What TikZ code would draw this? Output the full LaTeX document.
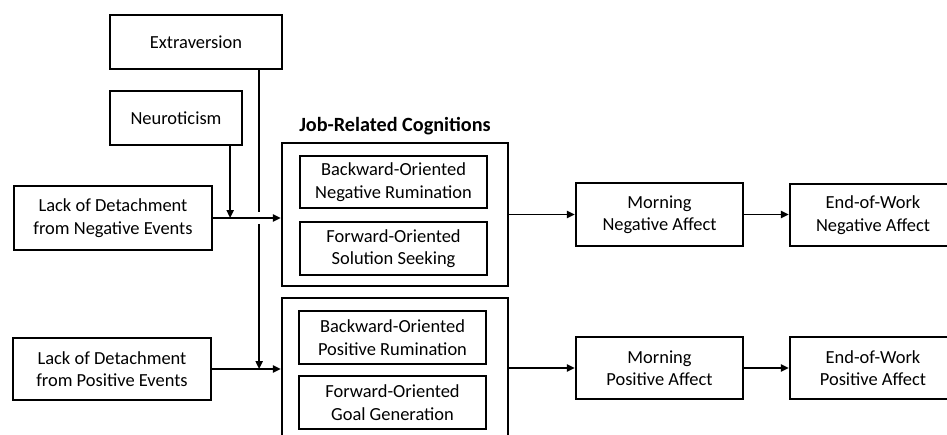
\documentclass[tikz,border=0pt]{standalone}
\usepackage{fontspec}
\setmainfont{Carlito}
\usetikzlibrary{arrows.meta, positioning, calc}

\begin{document}
\begin{tikzpicture}[x=0.02cm, y=-0.02cm, line width=1.3pt,
    box/.style={draw, align=center, inner sep=1pt, font=\fontsize{10.5}{12.8}\selectfont},
    frame/.style={draw, minimum width=4.52cm, minimum height=2.86cm},
    inbox/.style={box, minimum width=3.74cm, minimum height=1.05cm},
    arr/.style={-{Triangle[length=4.5pt,width=4pt]}, line width=1.1pt}]

  \path[use as bounding box, clip] (0,0) rectangle (947,435);

  % ---------- traits ----------
  \node[box, minimum width=3.44cm, minimum height=1.08cm] (extra) at (196,42) {Extraversion};
  \node[box, minimum width=2.64cm, minimum height=1.08cm] (neuro) at (176,118) {Neuroticism};

  % ---------- lack of detachment ----------
  \node[box, minimum width=3.96cm, minimum height=1.27cm] (lodneg) at (113,218) {Lack of Detachment\\from Negative Events};
  \node[box, minimum width=3.96cm, minimum height=1.25cm] (lodpos) at (112,369) {Lack of Detachment\\from Positive Events};

  % ---------- job-related cognitions ----------
  \node[frame] (jrcneg) at (395,214.5) {};
  \node[frame] (jrcpos) at (395,369.5) {};
  \node[above=0pt of jrcneg, font=\fontsize{11.5}{14}\selectfont\bfseries] (title) {Job-Related Cognitions};
  \node[inbox] (bnr) at (393.5,182) {Backward-Oriented\\Negative Rumination};
  \node[inbox] (fss) at (393.5,248.5) {Forward-Oriented\\Solution Seeking};
  \node[inbox] (bpr) at (392.5,337.5) {Backward-Oriented\\Positive Rumination};
  \node[inbox] (fgg) at (392.5,402.5) {Forward-Oriented\\Goal Generation};

  % ---------- affect ----------
  \node[box, minimum width=3.34cm, minimum height=1.26cm] (mna) at (659.5,214.5) {Morning\\Negative Affect};
  \node[box, minimum width=3.34cm, minimum height=1.24cm] (mpa) at (659.5,368) {Morning\\Positive Affect};
  \node[box, minimum width=3.32cm, minimum height=1.24cm] (ena) at (873,215) {End-of-Work\\Negative Affect};
  \node[box, minimum width=3.32cm, minimum height=1.24cm] (epa) at (873,368) {End-of-Work\\Positive Affect};

  % ---------- connectors ----------
  \coordinate (ex) at ($(extra.south east)+(-24,0)$);
  \coordinate (nx) at ($(neuro.south east)+(-13,0)$);
  \draw[arr] (lodneg.east) -- (lodneg.east -| jrcneg.west);
  \draw[arr] (lodpos.east) -- (lodpos.east -| jrcpos.west);
  \draw[arr] (nx) -- (nx |- lodneg.east);
  \draw[line width=1.1pt] (ex) -- ($(ex |- lodneg.east)+(0,-6)$);
  \draw[arr] ($(ex |- lodneg.east)+(0,6)$) -- (ex |- lodpos.east);
  \draw[arr] (jrcneg.east) -- (jrcneg.east -| mna.west);
  \draw[arr] (jrcpos.east |- mpa.west) -- (mpa.west);
  \draw[arr] (mna.east) -- (mna.east -| ena.west);
  \draw[arr] (mpa.east) -- (mpa.east -| epa.west);

\end{tikzpicture}
\end{document}
